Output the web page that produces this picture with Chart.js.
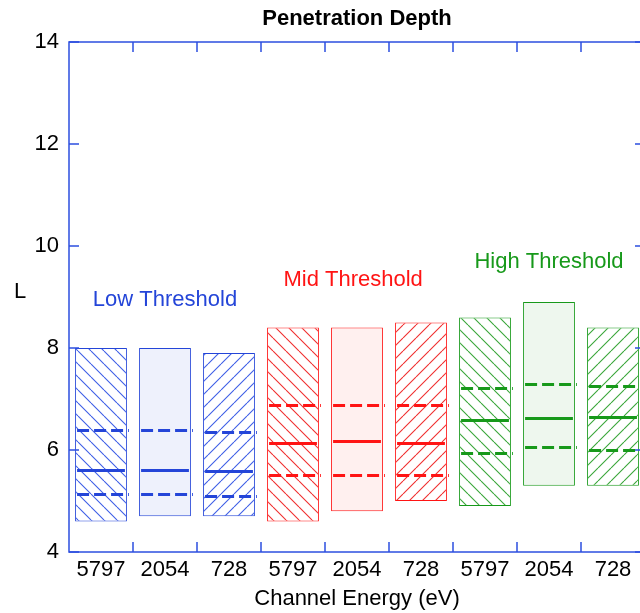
<!DOCTYPE html>
<html lang="en">
  <head>
    <meta charset="UTF-8" />
    <title>Penetration Depth</title>
    <style>
      html, body { margin: 0; padding: 0; background: #fff; overflow: hidden; }
      .container { position: relative; width: 646px; height: 613px; }
    </style>
    <script src="https://cdn.jsdelivr.net/npm/chart.js"></script>
  </head>
  <body>
    <div class="container"><canvas id="chart"></canvas></div>
    <script>
      // energies per threshold group
      const categories = ["5797", "2054", "728", "5797", "2054", "728", "5797", "2054", "728"];
      const boxLow = [4.6, 4.7, 4.7, 4.6, 4.8, 5.0, 4.9, 5.3, 5.3];
      const boxHigh = [8.0, 8.0, 7.9, 8.4, 8.4, 8.5, 8.6, 8.9, 8.4];
      const medians = [5.6, 5.6, 5.58, 6.13, 6.18, 6.13, 6.59, 6.62, 6.64];
      const upperQ = [6.39, 6.39, 6.36, 6.89, 6.89, 6.89, 7.21, 7.3, 7.26];
      const lowerQ = [5.13, 5.13, 5.1, 5.51, 5.51, 5.51, 5.95, 6.05, 6.0];
      const groupNames = ["Low Threshold", "Mid Threshold", "High Threshold"];
      const groupLabelX = [1, 3.94, 7];
      const groupLabelY = [8.95, 9.33, 9.69];

      const FONT = "'Liberation Sans', Arial, sans-serif";
      const AXIS = "#2d4fe0";
      const colors = ["#2445d8", "#ff1414", "#17991a"];
      const hatchColors = ["#3f5fe6", "#f03030", "#3aa63a"];
      const lightFills = ["#eef1fc", "#fff0ef", "#eef7ee"];

      // diagonal hatch tile, dir 1 = "\" , dir -1 = "/"
      function hatch(color, dir) {
        const s = 13;
        const c = document.createElement("canvas");
        c.width = s;
        c.height = s;
        const g = c.getContext("2d");
        g.fillStyle = "#fff";
        g.fillRect(0, 0, s, s);
        g.strokeStyle = color;
        g.lineWidth = 1.1;
        g.beginPath();
        for (let k = -1; k <= 1; k++) {
          if (dir > 0) {
            g.moveTo(k * s, 0);
            g.lineTo(k * s + s, s);
          } else {
            g.moveTo(k * s, s);
            g.lineTo(k * s + s, 0);
          }
        }
        g.stroke();
        return g.createPattern(c, "repeat");
      }

      const fills = categories.map((_, i) => {
        const grp = Math.floor(i / 3);
        const kind = i % 3;
        if (kind === 1) return lightFills[grp];
        return hatch(hatchColors[grp], kind === 0 ? 1 : -1);
      });
      const borders = categories.map((_, i) => colors[Math.floor(i / 3)]);

      // median and quartile lines on each box, plus the frame and labels
      const boxExtras = {
        id: "boxExtras",
        afterDatasetsDraw(chart) {
          const { ctx, chartArea: a, scales } = chart;
          const y = scales.y;
          const x = scales.x;
          const meta = chart.getDatasetMeta(0);
          ctx.save();
          meta.data.forEach((bar, i) => {
            const left = bar.x - bar.width / 2;
            const right = bar.x + bar.width / 2;
            ctx.strokeStyle = borders[i];
            ctx.lineWidth = 3;
            ctx.setLineDash([]);
            const ym = Math.round(y.getPixelForValue(medians[i])) + 0.5;
            ctx.beginPath();
            ctx.moveTo(left + 2, ym);
            ctx.lineTo(right - 2, ym);
            ctx.stroke();
            ctx.setLineDash([12, 5]);
            [upperQ[i], lowerQ[i]].forEach((v) => {
              const yy = Math.round(y.getPixelForValue(v)) + 0.5;
              ctx.beginPath();
              ctx.moveTo(left + 2, yy);
              ctx.lineTo(right + 2, yy);
              ctx.stroke();
            });
          });
          ctx.setLineDash([]);

          // frame with inward ticks
          ctx.strokeStyle = AXIS;
          ctx.lineWidth = 1.5;
          ctx.strokeRect(a.left, a.top, a.right - a.left, a.bottom - a.top);
          ctx.beginPath();
          y.ticks.forEach((t) => {
            const py = y.getPixelForValue(t.value);
            ctx.moveTo(a.left, py);
            ctx.lineTo(a.left + 10, py);
            ctx.moveTo(a.right, py);
            ctx.lineTo(a.right - 10, py);
          });
          for (let i = 1; i < categories.length; i++) {
            const px = x.getPixelForValue(i - 0.5);
            ctx.moveTo(px, a.bottom);
            ctx.lineTo(px, a.bottom - 10);
            ctx.moveTo(px, a.top);
            ctx.lineTo(px, a.top + 10);
          }
          ctx.stroke();

          ctx.textAlign = "center";
          ctx.textBaseline = "middle";

          // title centred over the plot
          ctx.fillStyle = "#000";
          ctx.font = "bold 22px " + FONT;
          ctx.fillText("Penetration Depth", (a.left + a.right) / 2, 19);

          // group captions
          ctx.font = "22px " + FONT;
          groupNames.forEach((name, g) => {
            ctx.fillStyle = colors[g];
            ctx.fillText(name, x.getPixelForValue(groupLabelX[g]), y.getPixelForValue(groupLabelY[g]));
          });

          // upright y axis title
          ctx.fillStyle = "#000";
          ctx.fillText("L", 20, y.getPixelForValue(9.1));
          ctx.restore();
        },
      };

      new Chart(document.getElementById("chart"), {
        type: "bar",
        data: {
          labels: categories,
          datasets: [
            {
              data: categories.map((_, i) => [boxLow[i], boxHigh[i]]),
              backgroundColor: fills,
              borderColor: borders,
              borderWidth: 1,
              borderSkipped: false,
              barPercentage: 0.81,
              categoryPercentage: 1,
            },
          ],
        },
        options: {
          responsive: true,
          maintainAspectRatio: false,
          animation: false,
          layout: { padding: { left: 0, right: 1, top: 42, bottom: 0 } },
          plugins: {
            legend: { display: false },
            tooltip: { enabled: false },
            title: { display: false },
          },
          scales: {
            x: {
              type: "category",
              offset: true,
              grid: { display: false, drawTicks: false },
              border: { display: false },
              ticks: { color: "#000", font: { family: FONT, size: 22 }, padding: 5, maxRotation: 0, autoSkip: false },
              title: {
                display: true,
                text: "Channel Energy (eV)",
                color: "#000",
                font: { family: FONT, size: 22 },
                padding: { top: 0, bottom: 1 },
              },
              afterFit(scale) {
                scale.height = 61;
              },
            },
            y: {
              min: 4,
              max: 14,
              grid: { display: false, drawTicks: false },
              border: { display: false },
              ticks: { stepSize: 2, color: "#000", font: { family: FONT, size: 22 }, padding: 10 },
              afterFit(scale) {
                scale.width = 69;
              },
            },
          },
        },
        plugins: [boxExtras],
      });
    </script>
  </body>
</html>
